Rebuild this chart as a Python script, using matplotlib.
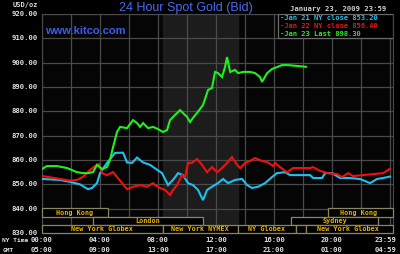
import matplotlib
matplotlib.use("Agg")
import matplotlib.pyplot as plt
from matplotlib.patches import Rectangle

# ---------------- data ----------------
jan21_t = [0.0, 1.24, 1.93, 2.62, 3.17, 3.45, 3.79, 4.0, 4.48, 5.03, 5.59, 5.86, 6.21, 6.55,
           6.97, 7.45, 7.93, 8.28, 8.69, 9.03, 9.38, 9.72, 10.07, 10.41, 10.76, 11.1, 11.38,
           11.72, 12.14, 12.48, 12.83, 13.31, 13.79, 14.14, 14.48, 14.9, 15.38, 15.86, 16.2,
           16.76, 17.1, 18.48, 18.69, 19.31, 19.52, 20.0, 20.55, 21.24, 21.93, 22.62, 23.1,
           23.52, 24.0]
jan21_v = [852.2, 851.8, 851.0, 850.0, 848.0, 848.5, 850.5, 854.6, 858.8, 862.9, 863.0, 859.0,
           858.8, 861.0, 859.0, 858.0, 856.0, 854.6, 849.7, 851.8, 854.6, 853.8, 850.5, 849.7,
           847.7, 843.5, 847.7, 849.0, 850.5, 852.2, 850.5, 851.8, 852.2, 849.7, 848.5, 849.0,
           850.5, 853.0, 854.6, 855.0, 853.8, 853.8, 852.6, 852.6, 854.6, 854.6, 852.6, 852.6,
           852.2, 850.5, 852.2, 852.6, 853.2]

jan22_t = [0.0, 0.55, 1.24, 1.93, 2.41, 2.83, 3.31, 3.66, 3.93, 4.14, 4.48, 4.9, 5.17, 5.52,
           5.86, 6.28, 6.76, 7.24, 7.66, 7.79, 8.14, 8.48, 8.83, 9.03, 9.31, 9.66, 9.86, 10.07,
           10.34, 10.69, 11.03, 11.38, 11.72, 12.07, 12.41, 12.76, 13.1, 13.45, 13.66, 14.0,
           14.34, 14.69, 15.17, 15.59, 15.93, 16.07, 16.41, 16.9, 17.31, 18.48, 18.69, 19.17,
           19.72, 20.34, 20.69, 21.1, 21.45, 22.14, 22.83, 23.52, 24.0]
jan22_v = [853.4, 852.9, 852.2, 851.5, 851.8, 853.1, 855.9, 857.5, 858.3, 854.6, 853.8, 855.0,
           853.0, 850.5, 848.0, 849.0, 849.7, 849.0, 850.5, 849.7, 848.5, 847.7, 845.6, 847.7,
           849.7, 853.8, 853.0, 858.8, 858.8, 860.4, 858.0, 855.0, 857.1, 855.0, 856.7, 858.8,
           861.2, 858.0, 856.7, 858.8, 859.6, 860.8, 859.6, 859.0, 857.5, 858.8, 857.1, 855.0,
           856.7, 856.7, 857.1, 855.5, 854.6, 854.2, 853.0, 854.6, 853.4, 853.8, 854.2, 854.6,
           856.4]

jan23_t = [0.0, 0.34, 1.03, 1.72, 2.41, 2.83, 3.17, 3.52, 3.79, 4.14, 4.48, 4.69, 4.9, 5.17,
           5.38, 5.86, 6.28, 6.55, 6.76, 6.97, 7.31, 7.66, 8.0, 8.34, 8.62, 8.83, 9.17, 9.52,
           9.72, 10.0, 10.21, 10.41, 10.76, 11.1, 11.45, 11.72, 11.93, 12.14, 12.41, 12.62,
           12.76, 12.97, 13.31, 13.52, 13.86, 14.34, 14.69, 15.03, 15.17, 15.52, 15.86, 16.21,
           16.55, 16.97, 18.2]
jan23_v = [856.3, 857.5, 857.5, 856.7, 855.0, 854.6, 854.6, 855.0, 858.0, 856.3, 857.1, 860.0,
           865.3, 871.5, 873.6, 873.1, 876.4, 875.2, 873.6, 875.2, 873.1, 873.6, 872.7, 871.5,
           872.3, 876.4, 878.5, 880.5, 879.3, 877.7, 875.6, 877.3, 879.9, 882.6, 888.8, 889.6,
           896.2, 895.7, 894.1, 898.2, 902.3, 896.2, 897.0, 895.7, 896.2, 896.2, 895.7, 894.1,
           892.1, 895.7, 897.4, 898.2, 899.0, 899.0, 898.3]

series_labels = ["-Jan 21 NY close 853.20", "-Jan 22 NY close 856.40", "-Jan 23 Last 898.30"]
series_colors = ["#1ec0f0", "#f01010", "#20f020"]

y_ticks = [920, 910, 900, 890, 880, 870, 860, 850, 840, 830]
x_tick_pos = [0, 4, 8, 12, 16, 20, 24]
ny_labels = ["00:00", "04:00", "08:00", "12:00", "16:00", "20:00", "23:59"]
gmt_labels = ["05:00", "09:00", "13:00", "17:00", "21:00", "01:00", "04:59"]

# sessions: (row, start, end, label)
sessions_row = [0, 0, 1, 1, 2, 2, 2, 2, 2]
sessions_start = [0.0, 19.7, 3.5, 17.2, 0.0, 8.33, 13.5, 17.5, 18.2]
sessions_end = [4.55, 24.2, 11.1, 23.2, 8.33, 13.5, 17.5, 18.2, 24.2]
sessions_label = ["Hong Kong", "Hong Kong", "London", "Sydney", "New York Globex",
                  "New York NYMEX", "NY Globex", "", "New York Globex"]
nymex_span = (8.33, 13.5)

# ---------------- figure ----------------
W, H = 400, 254
fig = plt.figure(figsize=(W / 100, H / 100), dpi=100, facecolor="black")
ax = fig.add_axes([42 / W, 1 - 233 / H, (393 - 42) / W, (233 - 14) / H])
ax.set_facecolor("#050505")
ax.set_xlim(0, 24.2)
ax.set_ylim(830, 920)

grid_c = "#4a4a4a"
ax.axvspan(*nymex_span, color="#1c1c1c", zorder=0)
for yv in y_ticks:
    ax.axhline(yv, color=grid_c, lw=0.9, zorder=1)
for xv in range(0, 25, 2):
    ax.axvline(xv, color=grid_c, lw=0.9, zorder=1)
for s in ax.spines.values():
    s.set_color(grid_c)
ax.set_xticks([])
ax.set_yticks([])

for t, v, c in zip([jan21_t, jan22_t, jan23_t], [jan21_v, jan22_v, jan23_v], series_colors):
    ax.plot(t, v, color=c, lw=1.5, zorder=3, solid_joinstyle="miter")

# session bars
row_bounds = [(836.7, 840.1), (833.4, 836.7), (830.1, 833.4)]
mono = "DejaVu Sans Mono"
gold = "#e6b400"
for r, s0, s1, lab in zip(sessions_row, sessions_start, sessions_end, sessions_label):
    lo, hi = row_bounds[r]
    ax.add_patch(Rectangle((s0, lo), s1 - s0, hi - lo, facecolor="black",
                           edgecolor="#8a8660", lw=0.9, zorder=4, clip_on=False))
    if lab:
        ax.text((s0 + min(s1, 24.0)) / 2, (lo + hi) / 2, lab, color=gold, fontsize=4.9,
                family=mono, weight="bold", ha="center", va="center", zorder=5)

# legend box
ax.add_patch(Rectangle((16.3, 910), 24.2 - 16.3, 10, facecolor="black",
                       edgecolor="#6a6a6a", lw=0.9, zorder=6))
for i, (lab, c) in enumerate(zip(series_labels, series_colors)):
    fig.text(280 / W, 1 - (18 + 8 * i) / H, lab, color=c, fontsize=5.1, family=mono,
             weight="bold", ha="left", va="center", zorder=7)

# y labels
for yv in y_ticks:
    ax.text(-0.3, yv, f"{yv:.2f}", color="#e0e0e0", fontsize=5.2, family=mono,
            weight="bold", ha="right", va="center", clip_on=False)

# x labels (NY time and GMT rows)
fig_y1, fig_y2 = 1 - 240 / H, 1 - 250 / H
for xp, a, b in zip(x_tick_pos, ny_labels, gmt_labels):
    px = 42 + min(xp, 23.7) * 14.5
    fig.text(px / W, fig_y1, a, color="#e0e0e0", fontsize=5.2, family=mono, weight="bold",
             ha="center", va="center")
    fig.text(px / W, fig_y2, b, color="#e0e0e0", fontsize=5.2, family=mono, weight="bold",
             ha="center", va="center")
fig.text(2 / W, fig_y1, "NY Time", color="#e0e0e0", fontsize=4.5, family=mono,
         weight="bold", ha="left", va="center")
fig.text(3 / W, fig_y2, "GMT", color="#e0e0e0", fontsize=4.5, family=mono,
         weight="bold", ha="left", va="center")

# header texts
fig.text(13 / W, 1 - 5 / H, "USD/oz", color="#d8d8d8", fontsize=5.0, family=mono,
         weight="bold", ha="left", va="center")
fig.text(186 / W, 1 - 7.5 / H, "24 Hour Spot Gold (Bid)", color="#4a6af0", fontsize=9,
         family="Liberation Sans", ha="center", va="center")
fig.text(386 / W, 1 - 9 / H, "January 23, 2009 23:59", color="#d0d0d0", fontsize=5.2,
         family=mono, weight="bold", ha="right", va="center")
ax.text(0.2, 913, "www.kitco.com", color="#3a5cf0", fontsize=8, family="Liberation Sans",
        weight="bold", ha="left", va="center", zorder=6)

fig.savefig("out.png", dpi=100, facecolor="black")
